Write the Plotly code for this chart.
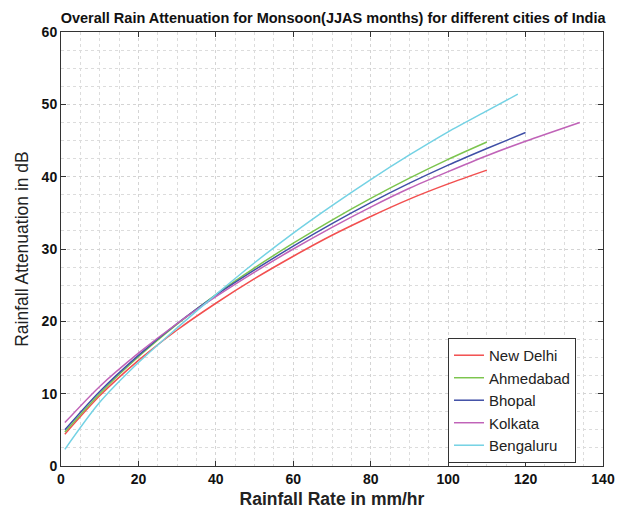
import plotly.graph_objects as go

cities = ["New Delhi", "Ahmedabad", "Bhopal", "Kolkata", "Bengaluru"]
colors = ["#f24f4f", "#7cc54e", "#3f4fa6", "#c063b8", "#74d2e4"]

x_delhi = [1, 10, 20, 30, 40, 50, 60, 70, 80, 90, 100, 110]
y_delhi = [4.4, 9.7, 14.6, 18.8, 22.5, 25.9, 29.0, 31.9, 34.5, 36.9, 39.0, 40.9]

x_ahmedabad = [1, 10, 20, 30, 40, 50, 60, 70, 80, 90, 100, 110]
y_ahmedabad = [4.7, 10.0, 15.1, 19.6, 23.7, 27.4, 30.8, 34.0, 37.0, 39.8, 42.4, 44.8]

x_bhopal = [1, 10, 20, 30, 40, 50, 60, 70, 80, 90, 100, 110, 120]
y_bhopal = [5.0, 10.3, 15.3, 19.7, 23.6, 27.1, 30.4, 33.5, 36.4, 39.1, 41.6, 43.9, 46.1]

x_kolkata = [1, 10, 20, 30, 40, 50, 60, 70, 80, 90, 100, 110, 120, 134]
y_kolkata = [6.0, 11.0, 15.6, 19.7, 23.4, 26.8, 30.0, 33.0, 35.8, 38.4, 40.7, 42.9, 44.9, 47.5]

x_bengaluru = [1, 10, 20, 30, 40, 50, 60, 70, 80, 90, 100, 110, 118]
y_bengaluru = [2.3, 8.8, 14.3, 19.1, 23.7, 28.1, 32.2, 36.0, 39.6, 43.0, 46.2, 49.1, 51.4]

xs = [x_delhi, x_ahmedabad, x_bhopal, x_kolkata, x_bengaluru]
ys = [y_delhi, y_ahmedabad, y_bhopal, y_kolkata, y_bengaluru]

x_ticks = [0, 20, 40, 60, 80, 100, 120, 140]
y_ticks = [0, 10, 20, 30, 40, 50, 60]

fig = go.Figure()
for name, c, x, y in zip(cities, colors, xs, ys):
    fig.add_trace(go.Scatter(x=x, y=y, mode="lines", name=name,
                             line=dict(color=c, width=1.5, shape="spline", smoothing=0.8)))

axis_common = dict(
    showline=True, linecolor="#333333", linewidth=1, mirror="ticks",
    ticks="inside", ticklen=5, tickcolor="#333333",
    showgrid=True, gridcolor="#d4d4d4", griddash="dot", gridwidth=1,
    zeroline=False, automargin=False,
    tickfont=dict(family="Liberation Sans", size=14, color="#111111", weight="bold"),
)

fig.update_xaxes(range=[0, 140], tickvals=x_ticks, ticktext=[str(v) for v in x_ticks],
                 minor=dict(dtick=5, showgrid=True, gridcolor="#dcdcdc", griddash="dot"),
                 title=dict(text="<b>Rainfall Rate in mm/hr</b>", standoff=6,
                            font=dict(family="Liberation Sans", size=17.5, color="#222222")),
                 **axis_common)
fig.update_yaxes(range=[0, 60], tickvals=y_ticks, ticktext=[str(v) for v in y_ticks],
                 minor=dict(dtick=2.5, showgrid=True, gridcolor="#dcdcdc", griddash="dot"),
                 title=dict(text="Rainfall Attenuation in dB", standoff=8,
                            font=dict(family="Liberation Sans", size=17.5, color="#222222")),
                 **axis_common)

fig.update_layout(
    width=630, height=514,
    margin=dict(l=53, r=35, t=24, b=56),
    paper_bgcolor="white", plot_bgcolor="white",
    title=dict(text="<b>Overall Rain Attenuation for Monsoon(JJAS months) for different cities of India</b>",
               x=0.516, xanchor="center", y=1 - 10 / 514, yanchor="middle",
               font=dict(family="Liberation Sans", size=14.5, color="#111111")),
    legend=dict(x=0.714, y=0.295, xanchor="left", yanchor="top",
                bordercolor="#333333", borderwidth=1, bgcolor="white",
                font=dict(family="Liberation Sans", size=15, color="#222222"),
                tracegroupgap=0, itemwidth=30),
    showlegend=True,
)

fig.write_html("out.html")
